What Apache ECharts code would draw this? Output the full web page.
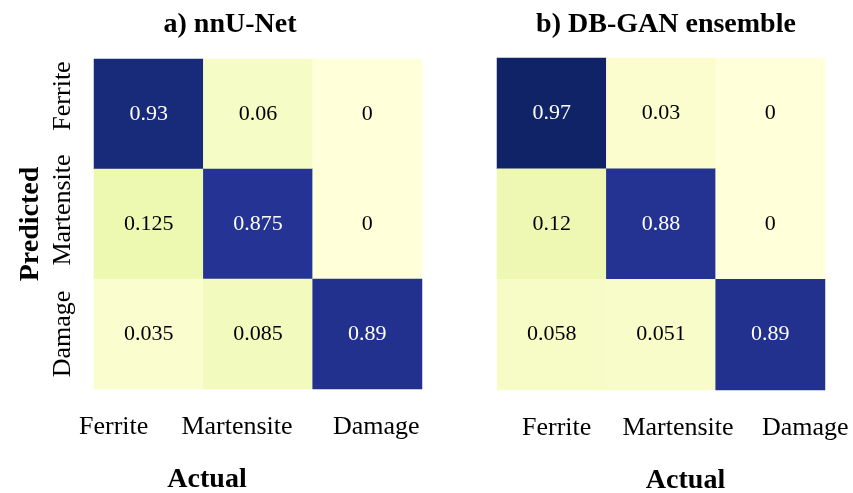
<!DOCTYPE html>
<html>
<head>
<meta charset="utf-8">
<script src="https://cdn.jsdelivr.net/npm/echarts@6/dist/echarts.min.js"></script>
<style>html,body{margin:0;padding:0;background:#fff}#c{width:853px;height:493px}</style>
</head>
<body>
<div id="c"></div>
<script>
// ---- data ----
const actualCats = ['Ferrite', 'Martensite', 'Damage'];
const predictedCats = ['Ferrite', 'Martensite', 'Damage'];
const titles = ['a) nnU-Net', 'b) DB-GAN ensemble'];
// rows = predicted, columns = actual
const nnunetMatrix = [
  [0.93, 0.06, 0],
  [0.125, 0.875, 0],
  [0.035, 0.085, 0.89]
];
const dbganMatrix = [
  [0.97, 0.03, 0],
  [0.12, 0.88, 0],
  [0.058, 0.051, 0.89]
];
const xAxisName = 'Actual';
const yAxisName = 'Predicted';

// ---- styling / layout ----
const FONT = 'Liberation Serif';
const ylgnbu = ['#ffffd9','#edf8b1','#c7e9b4','#7fcdbb','#41b6c4','#1d91c0','#225ea8','#253494','#081d58'];
const xLabelShift = [[-35, -21, 9], [5, 17, 35]];
const yLabelShift = [18, 14, 0];

function toData(m) {
  const out = [];
  m.forEach((row, r) => row.forEach((v, c) => {
    out.push({ value: [c, r, v], label: { color: v > 0.5 ? '#ffffff' : '#000000' } });
  }));
  return out;
}
function shiftRich(shifts, prefix) {
  const rich = {};
  shifts.forEach((s, i) => {
    rich[prefix + i] = {
      fontFamily: FONT, fontSize: 26, color: '#000',
      padding: s >= 0 ? [0, 0, 0, 2 * s] : [0, -2 * s, 0, 0]
    };
  });
  return rich;
}

const chart = echarts.init(document.getElementById('c'), null, { renderer: 'canvas' });
const grids = [
  { left: 94, top: 59, width: 328, height: 330, containLabel: false, outerBoundsMode: 'none' },
  { left: 497, top: 58, width: 328, height: 332, containLabel: false, outerBoundsMode: 'none' }
];
const option = {
  backgroundColor: '#ffffff',
  animation: false,
  title: [
    { text: titles[0], left: 225, top: 6, textAlign: 'center',
      textStyle: { fontFamily: FONT, fontSize: 28, fontWeight: 'bold', color: '#000' } },
    { text: titles[1], left: 661, top: 6, textAlign: 'center',
      textStyle: { fontFamily: FONT, fontSize: 28, fontWeight: 'bold', color: '#000' } }
  ],
  grid: grids,
  visualMap: {
    show: false, type: 'continuous', min: 0, max: 1, dimension: 2,
    seriesIndex: [0, 1], inRange: { color: ylgnbu }
  },
  xAxis: [0, 1].map(g => ({
    type: 'category', gridIndex: g, data: actualCats, position: 'bottom',
    axisLine: { show: false }, axisTick: { show: false }, splitLine: { show: false },
    axisLabel: {
      margin: 25,
      formatter: (v, i) => `{x${i}|${v}}`,
      rich: shiftRich(xLabelShift[g], 'x')
    },
    name: xAxisName, nameLocation: 'middle', nameGap: 77,
    nameTextStyle: {
      fontFamily: FONT, fontSize: 28, fontWeight: 'bold', color: '#000',
      padding: g === 0 ? [0, 102, 0, 0] : [0, 0, 0, 49]
    }
  })),
  yAxis: [0, 1].map(g => ({
    type: 'category', gridIndex: g, data: predictedCats, inverse: true,
    axisLine: { show: false }, axisTick: { show: false }, splitLine: { show: false },
    axisLabel: g === 0 ? {
      show: true, rotate: 90, margin: 18,
      formatter: (v, i) => `{y${i}|${v}}`,
      rich: shiftRich(yLabelShift, 'y')
    } : { show: false },
    name: g === 0 ? yAxisName : '', nameLocation: 'middle', nameGap: 49, nameRotate: 90,
    nameTextStyle: { fontFamily: FONT, fontSize: 28, fontWeight: 'bold', color: '#000' }
  })),
  series: [nnunetMatrix, dbganMatrix].map((m, g) => ({
    type: 'heatmap', xAxisIndex: g, yAxisIndex: g, data: toData(m),
    label: { show: true, fontFamily: FONT, fontSize: 22,
      formatter: p => String(p.value[2]) },
    itemStyle: { borderWidth: 0 },
    emphasis: { disabled: true }
  }))
};
chart.setOption(option);
</script>
</body>
</html>
